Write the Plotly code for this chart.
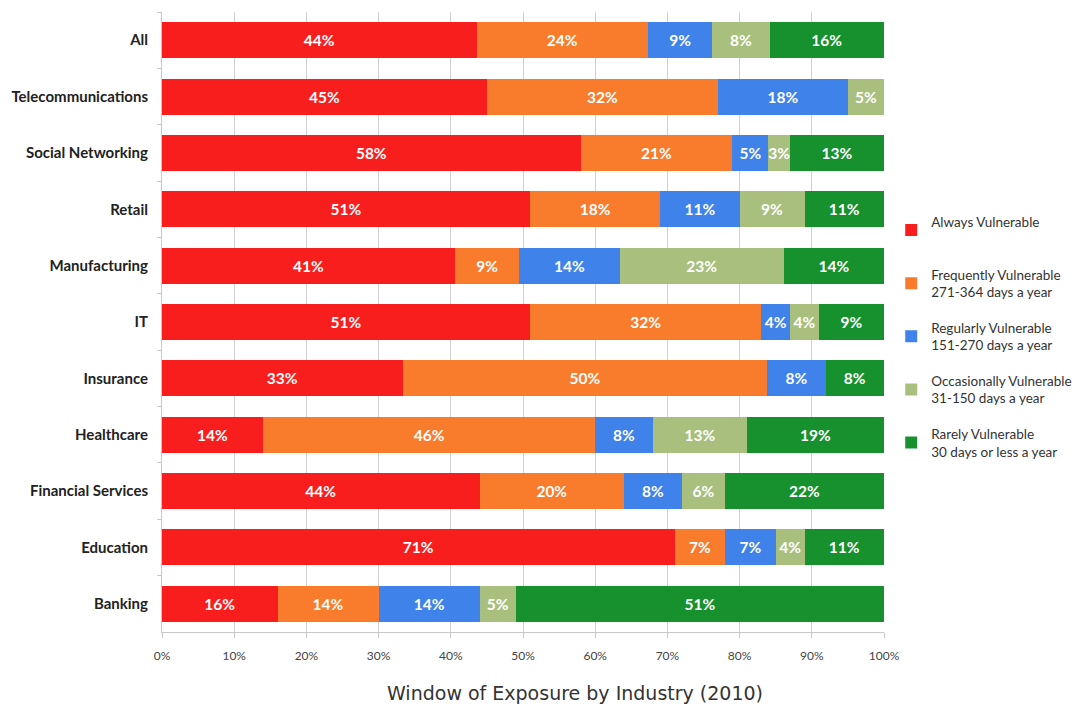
import plotly.graph_objects as go

industries = ["All", "Telecommunications", "Social Networking", "Retail", "Manufacturing",
              "IT", "Insurance", "Healthcare", "Financial Services", "Education", "Banking"]

always       = [44, 45, 58, 51, 41, 51, 33, 14, 44, 71, 16]
frequently   = [24, 32, 21, 18,  9, 32, 50, 46, 20,  7, 14]
regularly    = [ 9, 18,  5, 11, 14,  4,  8,  8,  8,  7, 14]
occasionally = [ 8,  5,  3,  9, 23,  4,  0, 13,  6,  4,  5]
rarely       = [16,  0, 13, 11, 14,  9,  8, 19, 22, 11, 51]

series_names = [
    "Always Vulnerable<br> ",
    "Frequently Vulnerable<br>271-364 days a year",
    "Regularly Vulnerable<br>151-270 days a year",
    "Occasionally Vulnerable<br>31-150 days a year",
    "Rarely Vulnerable<br>30 days or less a year",
]
series_values = [always, frequently, regularly, occasionally, rarely]
colors = ["#F91E1E", "#F97B2C", "#3E82EA", "#A8BF7E", "#16912E"]

tick_vals = [0, 10, 20, 30, 40, 50, 60, 70, 80, 90, 100]
tick_text = [f"{v}%" for v in tick_vals]
chart_title = "Window of Exposure by Industry (2010)"

fig = go.Figure()
for i, (name, vals, col) in enumerate(zip(series_names, series_values, colors)):
    fig.add_trace(go.Bar(
        y=industries, x=vals, name=name, orientation="h",
        marker=dict(color=col, line=dict(width=0)),
        text=[f"{v}%" if v else "" for v in vals],
        textposition="inside", insidetextanchor="middle", textangle=0,
        textfont=dict(family="Lato", size=15.5, color="white", weight="bold"),
        legendgroup=f"g{i}",
    ))

fig.update_layout(
    barmode="stack", barnorm="percent", bargap=0.36,
    width=1091, height=711,
    margin=dict(l=162, r=207, t=12, b=79, autoexpand=False),
    paper_bgcolor="white", plot_bgcolor="white",
    uniformtext=dict(mode="show", minsize=15.5),
    showlegend=True,
    legend=dict(x=1.01, xanchor="left", y=0.687, yanchor="top",
                font=dict(family="Lato", size=13.5, color="#333333"),
                tracegroupgap=15, itemwidth=30, traceorder="grouped"),
    xaxis=dict(range=[0, 100], tickvals=tick_vals, ticktext=tick_text,
               showgrid=True, gridcolor="#D0D0D0", gridwidth=1,
               showline=True, linecolor="#C8C8C8", ticks="outside", ticklen=5,
               tickcolor="#C8C8C8", ticklabelstandoff=8,
               tickfont=dict(family="Lato", size=12, color="#444444"),
               zeroline=False, fixedrange=True),
    yaxis=dict(autorange="reversed", showline=True, linecolor="#C8C8C8",
               ticks="outside", ticklen=4, tickcolor="#C8C8C8", tickson="boundaries",
               ticklabelstandoff=10, showgrid=False,
               tickfont=dict(family="Lato", size=15, color="#222222", weight="bold")),
    annotations=[dict(text=chart_title, xref="paper", yref="paper",
                      x=0.572, y=-0.098, xanchor="center", yanchor="middle",
                      showarrow=False,
                      font=dict(family="DejaVu Sans", size=19, color="#333333"))],
)

fig.write_html("out.html")
